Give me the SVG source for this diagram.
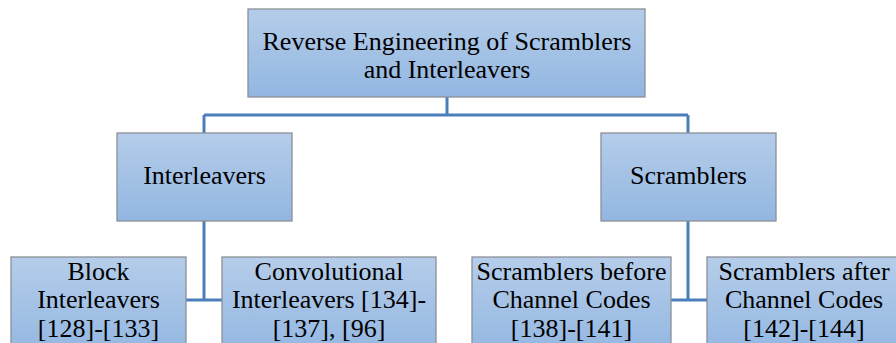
<svg xmlns="http://www.w3.org/2000/svg" width="896" height="343" viewBox="0 0 896 343">
<defs>
<linearGradient id="g" x1="0" y1="0" x2="0" y2="1">
<stop offset="0" stop-color="#b5cdea"/>
<stop offset="1" stop-color="#92b6e1"/>
</linearGradient>
<style>
.box{fill:url(#g);stroke:#8a8f96;stroke-width:1.3}
.t{font-size:26px;fill:#000;text-anchor:middle}
.c{fill:none;stroke:#4a7ebb;stroke-width:3}
</style>
</defs>
<rect width="896" height="343" fill="#fff"/>
<g id="connectors">
<path class="c" d="M447,97 V115 M204,115 H688 M204,115 V133 M688,115 V133"/>
<path class="c" d="M204,221 V300 M186,300 H222"/>
<path class="c" d="M688,221 V300 M671,300 H707"/>
</g>
<g font-family="'Liberation Serif', 'DejaVu Serif', serif">
<g id="root">
<rect class="box" x="248" y="9" width="397" height="88"/>
<text class="t" x="447" y="50">Reverse Engineering of Scramblers</text>
<text class="t" x="447" y="78">and Interleavers</text>
</g>
<g id="interleavers">
<rect class="box" x="117" y="133" width="175" height="88"/>
<text class="t" x="204.5" y="184">Interleavers</text>
</g>
<g id="scramblers">
<rect class="box" x="601" y="133" width="175" height="88"/>
<text class="t" x="688.5" y="184">Scramblers</text>
</g>
<g id="block">
<rect class="box" x="11" y="257" width="175" height="100"/>
<text class="t" x="98.5" y="280">Block</text>
<text class="t" x="98.5" y="308">Interleavers</text>
<text class="t" x="98.5" y="337">[128]-[133]</text>
</g>
<g id="convolutional">
<rect class="box" x="222" y="257" width="214" height="100"/>
<text class="t" x="329" y="280">Convolutional</text>
<text class="t" x="329" y="308">Interleavers [134]-</text>
<text class="t" x="329" y="337">[137], [96]</text>
</g>
<g id="scr-before">
<rect class="box" x="472" y="257" width="199" height="100"/>
<text class="t" x="571.5" y="280">Scramblers before</text>
<text class="t" x="571.5" y="308">Channel Codes</text>
<text class="t" x="571.5" y="337">[138]-[141]</text>
</g>
<g id="scr-after">
<rect class="box" x="707" y="257" width="196" height="100"/>
<text class="t" x="804" y="280">Scramblers after</text>
<text class="t" x="804" y="308">Channel Codes</text>
<text class="t" x="804" y="337">[142]-[144]</text>
</g>
</g>
</svg>
